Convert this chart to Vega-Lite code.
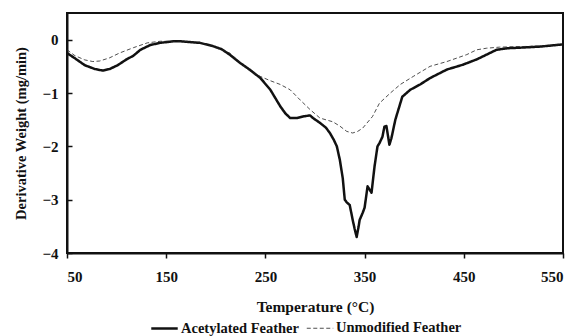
{
  "$schema": "https://vega.github.io/schema/vega-lite/v6.json",
  "autosize": {"type": "none"},
  "padding": {"left": 67, "top": 13, "right": 13, "bottom": 83},
  "width": 496,
  "height": 240,
  "config": {
    "font": "Liberation Serif",
    "view": {"stroke": "#111", "strokeWidth": 2},
    "axis": {"labelFont": "Liberation Serif", "titleFont": "Liberation Serif", "labelFontWeight": "bold", "titleFontWeight": "bold", "labelColor": "#111", "titleColor": "#111", "domainColor": "#111", "tickColor": "#111", "domainWidth": 2, "tickWidth": 1.5, "grid": false},
    "legend": {"labelFont": "Liberation Serif", "labelFontWeight": "bold", "labelColor": "#111"}
  },
  "data": {"values": [
    {"T": 50, "W": -0.25, "s": "Acetylated Feather"},
    {"T": 58, "W": -0.35, "s": "Acetylated Feather"},
    {"T": 68, "W": -0.48, "s": "Acetylated Feather"},
    {"T": 78, "W": -0.55, "s": "Acetylated Feather"},
    {"T": 86, "W": -0.58, "s": "Acetylated Feather"},
    {"T": 93, "W": -0.55, "s": "Acetylated Feather"},
    {"T": 101, "W": -0.48, "s": "Acetylated Feather"},
    {"T": 110, "W": -0.37, "s": "Acetylated Feather"},
    {"T": 117, "W": -0.3, "s": "Acetylated Feather"},
    {"T": 124, "W": -0.19, "s": "Acetylated Feather"},
    {"T": 134, "W": -0.1, "s": "Acetylated Feather"},
    {"T": 144, "W": -0.06, "s": "Acetylated Feather"},
    {"T": 157, "W": -0.03, "s": "Acetylated Feather"},
    {"T": 164, "W": -0.03, "s": "Acetylated Feather"},
    {"T": 184, "W": -0.06, "s": "Acetylated Feather"},
    {"T": 197, "W": -0.12, "s": "Acetylated Feather"},
    {"T": 206, "W": -0.18, "s": "Acetylated Feather"},
    {"T": 214, "W": -0.28, "s": "Acetylated Feather"},
    {"T": 224, "W": -0.43, "s": "Acetylated Feather"},
    {"T": 234, "W": -0.56, "s": "Acetylated Feather"},
    {"T": 245, "W": -0.72, "s": "Acetylated Feather"},
    {"T": 255, "W": -0.94, "s": "Acetylated Feather"},
    {"T": 265, "W": -1.25, "s": "Acetylated Feather"},
    {"T": 270, "W": -1.38, "s": "Acetylated Feather"},
    {"T": 275, "W": -1.47, "s": "Acetylated Feather"},
    {"T": 282, "W": -1.47, "s": "Acetylated Feather"},
    {"T": 288, "W": -1.44, "s": "Acetylated Feather"},
    {"T": 295, "W": -1.42, "s": "Acetylated Feather"},
    {"T": 298, "W": -1.47, "s": "Acetylated Feather"},
    {"T": 305, "W": -1.56, "s": "Acetylated Feather"},
    {"T": 311, "W": -1.65, "s": "Acetylated Feather"},
    {"T": 315, "W": -1.75, "s": "Acetylated Feather"},
    {"T": 319, "W": -1.88, "s": "Acetylated Feather"},
    {"T": 322, "W": -2.0, "s": "Acetylated Feather"},
    {"T": 325, "W": -2.25, "s": "Acetylated Feather"},
    {"T": 328, "W": -2.6, "s": "Acetylated Feather"},
    {"T": 330, "W": -3.0, "s": "Acetylated Feather"},
    {"T": 332, "W": -3.05, "s": "Acetylated Feather"},
    {"T": 335, "W": -3.1, "s": "Acetylated Feather"},
    {"T": 338, "W": -3.38, "s": "Acetylated Feather"},
    {"T": 340, "W": -3.55, "s": "Acetylated Feather"},
    {"T": 342, "W": -3.7, "s": "Acetylated Feather"},
    {"T": 344, "W": -3.5, "s": "Acetylated Feather"},
    {"T": 345, "W": -3.38, "s": "Acetylated Feather"},
    {"T": 348, "W": -3.25, "s": "Acetylated Feather"},
    {"T": 350, "W": -3.15, "s": "Acetylated Feather"},
    {"T": 353, "W": -2.75, "s": "Acetylated Feather"},
    {"T": 357, "W": -2.87, "s": "Acetylated Feather"},
    {"T": 360, "W": -2.38, "s": "Acetylated Feather"},
    {"T": 363, "W": -2.0, "s": "Acetylated Feather"},
    {"T": 365, "W": -1.94, "s": "Acetylated Feather"},
    {"T": 368, "W": -1.82, "s": "Acetylated Feather"},
    {"T": 370, "W": -1.63, "s": "Acetylated Feather"},
    {"T": 372, "W": -1.62, "s": "Acetylated Feather"},
    {"T": 375, "W": -1.97, "s": "Acetylated Feather"},
    {"T": 377, "W": -1.85, "s": "Acetylated Feather"},
    {"T": 381, "W": -1.5, "s": "Acetylated Feather"},
    {"T": 388, "W": -1.07, "s": "Acetylated Feather"},
    {"T": 396, "W": -0.94, "s": "Acetylated Feather"},
    {"T": 406, "W": -0.84, "s": "Acetylated Feather"},
    {"T": 416, "W": -0.72, "s": "Acetylated Feather"},
    {"T": 433, "W": -0.56, "s": "Acetylated Feather"},
    {"T": 449, "W": -0.47, "s": "Acetylated Feather"},
    {"T": 463, "W": -0.37, "s": "Acetylated Feather"},
    {"T": 473, "W": -0.28, "s": "Acetylated Feather"},
    {"T": 483, "W": -0.19, "s": "Acetylated Feather"},
    {"T": 494, "W": -0.16, "s": "Acetylated Feather"},
    {"T": 507, "W": -0.15, "s": "Acetylated Feather"},
    {"T": 527, "W": -0.13, "s": "Acetylated Feather"},
    {"T": 549, "W": -0.09, "s": "Acetylated Feather"},
    {"T": 50, "W": -0.19, "s": "Unmodified Feather"},
    {"T": 58, "W": -0.3, "s": "Unmodified Feather"},
    {"T": 68, "W": -0.38, "s": "Unmodified Feather"},
    {"T": 76, "W": -0.41, "s": "Unmodified Feather"},
    {"T": 83, "W": -0.4, "s": "Unmodified Feather"},
    {"T": 93, "W": -0.34, "s": "Unmodified Feather"},
    {"T": 103, "W": -0.25, "s": "Unmodified Feather"},
    {"T": 117, "W": -0.15, "s": "Unmodified Feather"},
    {"T": 131, "W": -0.06, "s": "Unmodified Feather"},
    {"T": 144, "W": -0.03, "s": "Unmodified Feather"},
    {"T": 164, "W": -0.03, "s": "Unmodified Feather"},
    {"T": 184, "W": -0.05, "s": "Unmodified Feather"},
    {"T": 197, "W": -0.13, "s": "Unmodified Feather"},
    {"T": 214, "W": -0.25, "s": "Unmodified Feather"},
    {"T": 227, "W": -0.47, "s": "Unmodified Feather"},
    {"T": 234, "W": -0.58, "s": "Unmodified Feather"},
    {"T": 245, "W": -0.69, "s": "Unmodified Feather"},
    {"T": 255, "W": -0.77, "s": "Unmodified Feather"},
    {"T": 265, "W": -0.84, "s": "Unmodified Feather"},
    {"T": 275, "W": -0.94, "s": "Unmodified Feather"},
    {"T": 285, "W": -1.13, "s": "Unmodified Feather"},
    {"T": 295, "W": -1.31, "s": "Unmodified Feather"},
    {"T": 305, "W": -1.47, "s": "Unmodified Feather"},
    {"T": 318, "W": -1.54, "s": "Unmodified Feather"},
    {"T": 325, "W": -1.62, "s": "Unmodified Feather"},
    {"T": 332, "W": -1.72, "s": "Unmodified Feather"},
    {"T": 338, "W": -1.75, "s": "Unmodified Feather"},
    {"T": 343, "W": -1.72, "s": "Unmodified Feather"},
    {"T": 348, "W": -1.66, "s": "Unmodified Feather"},
    {"T": 358, "W": -1.44, "s": "Unmodified Feather"},
    {"T": 365, "W": -1.19, "s": "Unmodified Feather"},
    {"T": 376, "W": -1.0, "s": "Unmodified Feather"},
    {"T": 386, "W": -0.84, "s": "Unmodified Feather"},
    {"T": 399, "W": -0.69, "s": "Unmodified Feather"},
    {"T": 416, "W": -0.5, "s": "Unmodified Feather"},
    {"T": 433, "W": -0.41, "s": "Unmodified Feather"},
    {"T": 453, "W": -0.28, "s": "Unmodified Feather"},
    {"T": 463, "W": -0.19, "s": "Unmodified Feather"},
    {"T": 473, "W": -0.16, "s": "Unmodified Feather"},
    {"T": 486, "W": -0.14, "s": "Unmodified Feather"},
    {"T": 507, "W": -0.13, "s": "Unmodified Feather"},
    {"T": 527, "W": -0.12, "s": "Unmodified Feather"},
    {"T": 549, "W": -0.09, "s": "Unmodified Feather"}
  ]},
  "mark": {"type": "line", "strokeJoin": "round"},
  "encoding": {
    "x": {"field": "T", "type": "quantitative", "scale": {"domain": [50, 550], "nice": false}, "axis": {"values": [50, 150, 250, 350, 450, 550], "title": "Temperature (°C)", "labelFontSize": 15, "titleFontSize": 15.5, "tickSize": 5, "labelPadding": 11, "titlePadding": 15}},
    "y": {"field": "W", "type": "quantitative", "scale": {"domain": [-4, 0.5], "nice": false}, "axis": {"values": [-4, -3, -2, -1, 0], "title": "Derivative Weight (mg/min)", "labelFontSize": 15, "titleFontSize": 14.5, "tickSize": -5, "labelPadding": 14, "titlePadding": 13}},
    "color": {"field": "s", "type": "nominal", "scale": {"domain": ["Acetylated Feather", "Unmodified Feather"], "range": ["#111111", "#222222"]}, "legend": {"title": null, "orient": "none", "legendX": 83, "legendY": 301, "direction": "horizontal", "symbolType": "stroke", "symbolSize": 700, "labelFontSize": 14.5, "labelOffset": 2, "columnPadding": 6, "symbolStrokeWidth": 2}},
    "strokeDash": {"field": "s", "type": "nominal", "scale": {"domain": ["Acetylated Feather", "Unmodified Feather"], "range": [[1, 0], [4, 2.5]]}, "legend": null},
    "strokeWidth": {"field": "s", "type": "nominal", "scale": {"domain": ["Acetylated Feather", "Unmodified Feather"], "range": [2.5, 0.8]}, "legend": null}
  }
}
